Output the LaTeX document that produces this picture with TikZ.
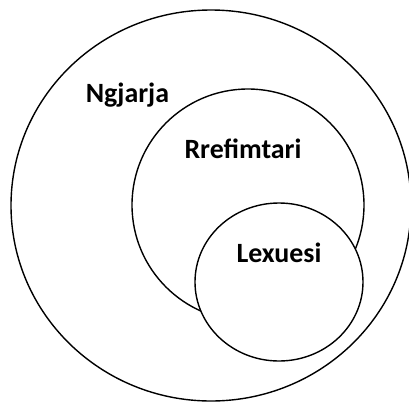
\documentclass[tikz,border=0pt]{standalone}
\usepackage{fontspec}
\setmainfont{Carlito}
\usetikzlibrary{shapes.geometric}

\tikzset{
  setbox/.style={draw=black, line width=1.4bp, ellipse, inner sep=0pt, fill=white},
  setlabel/.style={font=\fontsize{28}{32}\selectfont\bfseries, inner sep=0pt, anchor=base}
}

\begin{document}
\begin{tikzpicture}[x=1bp, y=-1bp]
\useasboundingbox (0,0) rectangle (409,402);
% the three nested sets
\node[setbox, minimum width=400bp, minimum height=391bp] (ngjarja) at (211,205.5) {};
\node[setbox, minimum width=232bp, minimum height=232bp] (rrefimtari) at (248,205) {};
\node[setbox, minimum width=168bp, minimum height=158bp] (lexuesi) at (279,282) {};
% labels
\node[setlabel] (lblngjarja) at (127.5,102) {Ngjarja};
\node[setlabel] (lblrrefimtari) at (243,158) {Rrefimtari};
\node[setlabel] (lbllexuesi) at (279,262) {Lexuesi};
\end{tikzpicture}
\end{document}
